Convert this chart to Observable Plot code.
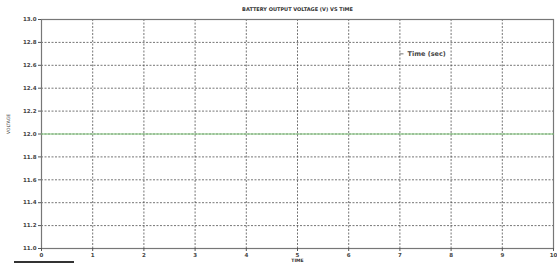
<!DOCTYPE html>
<html>
<head>
<meta charset="utf-8">
<script src="https://cdn.jsdelivr.net/npm/d3@7"></script>
<script src="https://cdn.jsdelivr.net/npm/@observablehq/plot@0.6"></script>
<style>
  html, body { margin: 0; padding: 0; background: #fff; }
  #chart { position: relative; width: 557px; height: 263px; }
  #strip { position: absolute; left: 14px; top: 261px; width: 60px; height: 2px; background: #333; }
</style>
</head>
<body>
<div id="chart"></div>
<script>
const chartTitle = "BATTERY OUTPUT VOLTAGE (V) VS TIME";
const xLabel = "TIME";
const yLabel = "VOLTAGE";
const legendLabel = "Time (sec)";
const timeSec = [0, 10];
const voltage = [12, 12];
const xTicks = [0, 1, 2, 3, 4, 5, 6, 7, 8, 9, 10];
const yTicks = [11, 11.2, 11.4, 11.6, 11.8, 12, 12.2, 12.4, 12.6, 12.8, 13];

const data = timeSec.map((t, i) => ({t, v: voltage[i]}));

const plot = Plot.plot({
  width: 557,
  height: 263,
  marginTop: 19,
  marginBottom: 15,
  marginLeft: 41,
  marginRight: 4,
  style: {fontFamily: "DejaVu Sans, sans-serif", fontSize: "5px", background: "#fff", color: "#333"},
  x: {domain: [0, 10], ticks: xTicks, label: null},
  y: {domain: [11, 13], ticks: yTicks, label: null},
  marks: [
    Plot.gridX(xTicks, {stroke: "#333", strokeOpacity: 0.85, strokeDasharray: "2,1.5", strokeWidth: 0.8}),
    Plot.gridY(yTicks, {stroke: "#333", strokeOpacity: 0.85, strokeDasharray: "2,1.5", strokeWidth: 0.8}),
    Plot.frame({stroke: "#777", strokeWidth: 1.2}),
    Plot.axisX(xTicks, {tickSize: 3, tickPadding: 2, fontSize: 5.5, fontWeight: "bold", stroke: "#555", fill: "#444"}),
    Plot.axisY(yTicks, {tickSize: 3, tickPadding: 2, fontSize: 5.5, fontWeight: "bold", stroke: "#555", fill: "#444"}),
    Plot.line(data, {x: "t", y: "v", stroke: "#7cc576", strokeWidth: 1}),
    Plot.text([chartTitle], {frameAnchor: "top", dy: -12, fontSize: 5, fontWeight: "bold", fill: "#333"}),
    Plot.text([xLabel], {frameAnchor: "bottom", dy: 13, fontSize: 4.5, fontWeight: "bold", fill: "#333"}),
    Plot.text([yLabel], {frameAnchor: "left", dx: -33, rotate: -90, fontSize: 4.5, fill: "#333"}),
    Plot.ruleY([0], {x1: 7.0, x2: 7.08, y: 12.7, stroke: "#555", strokeWidth: 0.8}),
    Plot.text([legendLabel], {x: 7.15, y: 12.7, textAnchor: "start", fontSize: 6.5, fontWeight: "bold", fill: "#444"})
  ]
});
document.getElementById("chart").appendChild(plot);
const strip = document.createElement("div");
strip.id = "strip";
document.getElementById("chart").appendChild(strip);
</script>
</body>
</html>
